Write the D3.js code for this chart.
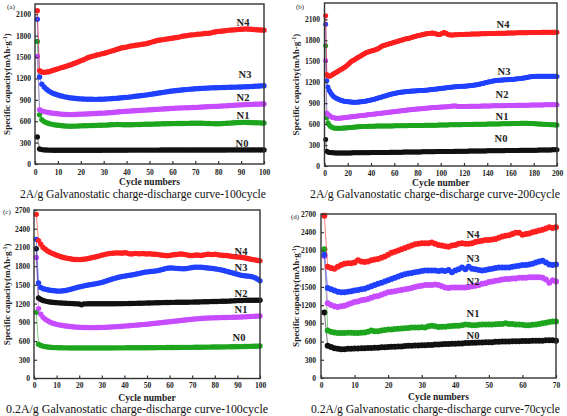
<!DOCTYPE html>
<html><head><meta charset="utf-8">
<script src="https://cdn.jsdelivr.net/npm/d3@7"></script>
<style>body{margin:0;background:#fff}svg{display:block}text{font-family:"Liberation Serif","Times New Roman",serif}</style>
</head><body><svg id="c" width="567" height="416"></svg>
<script>
// ---------- DATA ----------
const seriesNames = ["N0","N1","N2","N3","N4"];
// Panel (a) 2A/g, 100 cycles
const a_N4 = [2150,1310,1290,1285,1290,1295,1305,1315,1325,1335,1345,1355,1365,1375,1385,1395,1410,1420,1435,1450,1460,1475,1490,1500,1510,1520,1530,1535,1545,1550,1560,1570,1580,1590,1600,1610,1620,1630,1635,1640,1650,1655,1660,1665,1670,1675,1680,1685,1690,1700,1710,1720,1730,1735,1740,1745,1750,1755,1760,1765,1770,1775,1780,1790,1795,1800,1805,1810,1812,1815,1820,1822,1825,1830,1832,1835,1840,1848,1855,1860,1862,1865,1870,1875,1878,1880,1882,1885,1888,1890,1892,1895,1893,1890,1888,1885,1883,1880,1880,1878];
const a_N3 = [2030,1220,1120,1080,1050,1025,1005,990,978,968,958,950,942,936,930,926,922,918,915,913,912,910,909,908,908,907,907,908,908,910,912,914,916,918,920,923,926,929,932,935,938,942,946,950,954,958,962,966,970,975,980,985,990,995,1000,1005,1010,1015,1020,1025,1028,1032,1035,1038,1041,1044,1047,1050,1052,1055,1057,1059,1061,1063,1065,1066,1068,1069,1070,1071,1072,1073,1074,1075,1076,1077,1078,1079,1080,1081,1082,1083,1084,1086,1088,1090,1092,1094,1096,1098];
const a_N2 = [1510,760,745,735,728,722,716,712,708,704,700,698,696,694,693,693,694,695,697,699,700,702,703,705,706,708,709,711,712,714,716,718,720,723,726,729,732,735,738,740,742,744,746,748,750,752,754,756,758,760,762,764,766,768,770,772,774,776,778,780,782,784,786,787,788,789,790,791,792,793,795,797,799,801,803,805,806,808,809,810,812,814,816,818,820,822,824,826,828,830,832,834,835,836,837,838,839,840,841,842];
const a_N1 = [1720,690,620,595,580,568,560,553,548,544,540,537,534,532,530,530,531,532,533,535,536,537,538,539,540,541,542,543,544,545,546,548,550,552,553,554,553,552,551,550,550,551,552,553,554,555,556,557,558,558,559,560,561,562,563,564,565,566,566,567,567,568,568,569,569,570,570,571,571,572,572,572,571,570,569,568,567,566,565,565,566,568,570,572,574,576,578,580,582,583,584,584,583,582,580,579,578,577,576,575];
const a_N0 = [380,210,202,198,196,195,194,193,193,192,192,192,192,192,192,192,192,192,193,193,193,193,193,193,193,193,193,193,193,194,194,194,194,194,194,194,194,194,194,194,195,195,195,195,195,195,195,195,195,195,195,195,195,195,196,196,196,196,196,196,196,196,196,196,196,196,196,196,197,197,197,197,197,197,197,197,197,197,197,197,197,197,197,198,198,198,198,198,198,198,198,198,198,198,198,198,198,198,198,198];
// Panel (b) 2A/g, 200 cycles
const b_N4 = [2150,1310,1290,1285,1290,1300,1310,1320,1330,1340,1350,1360,1370,1380,1390,1400,1410,1420,1435,1450,1465,1480,1495,1505,1515,1525,1535,1545,1555,1565,1575,1585,1595,1605,1615,1625,1630,1635,1640,1645,1650,1655,1660,1665,1670,1680,1690,1700,1710,1720,1725,1730,1735,1740,1745,1750,1755,1760,1765,1770,1775,1780,1785,1790,1795,1800,1805,1810,1815,1820,1822,1825,1830,1835,1840,1845,1850,1855,1860,1865,1868,1872,1876,1880,1884,1888,1890,1893,1896,1898,1900,1902,1903,1900,1895,1890,1885,1882,1884,1890,1898,1905,1910,1905,1895,1885,1878,1875,1874,1875,1876,1878,1880,1880,1880,1881,1882,1882,1883,1884,1885,1885,1886,1886,1887,1888,1888,1889,1890,1890,1890,1891,1891,1892,1892,1893,1893,1894,1894,1895,1895,1896,1896,1897,1897,1898,1898,1899,1899,1900,1900,1900,1901,1901,1902,1902,1903,1903,1903,1904,1904,1905,1905,1905,1906,1906,1906,1907,1907,1907,1908,1908,1908,1909,1909,1910,1910,1910,1910,1911,1911,1911,1912,1912,1912,1912,1913,1913,1913,1913,1913,1914,1914,1914,1914,1914,1915,1915,1915,1915];
const b_N3 = [2030,1220,1130,1085,1055,1030,1010,993,980,970,962,955,948,942,937,932,928,925,922,920,918,916,915,914,913,913,913,914,915,916,918,920,922,925,928,931,934,937,941,945,949,953,957,962,967,972,977,982,987,992,997,1002,1007,1012,1017,1022,1027,1031,1035,1039,1042,1045,1048,1051,1054,1056,1058,1060,1062,1064,1066,1068,1070,1071,1072,1073,1074,1075,1076,1077,1078,1079,1080,1081,1082,1083,1084,1086,1088,1090,1092,1094,1096,1098,1100,1102,1104,1106,1108,1110,1112,1114,1116,1118,1120,1122,1124,1126,1128,1130,1132,1134,1135,1136,1137,1138,1139,1140,1141,1142,1143,1144,1146,1148,1150,1152,1154,1156,1158,1160,1163,1166,1170,1174,1178,1182,1186,1190,1194,1198,1202,1206,1210,1214,1217,1220,1222,1224,1226,1228,1229,1230,1231,1232,1233,1234,1235,1236,1237,1238,1239,1240,1242,1244,1246,1248,1250,1252,1254,1256,1258,1261,1264,1267,1270,1273,1276,1278,1280,1281,1282,1283,1283,1284,1284,1284,1285,1285,1285,1285,1285,1285,1285,1284,1284,1284,1283,1283,1283,1282];
const b_N2 = [1510,760,740,725,712,702,695,690,687,685,684,684,685,686,688,690,692,694,696,698,700,702,704,706,708,710,712,714,716,718,720,722,724,726,728,730,732,734,736,738,740,742,744,746,748,750,752,754,756,758,760,762,764,766,768,770,772,774,776,778,780,782,784,786,788,790,792,794,796,798,800,802,804,806,808,810,812,814,815,816,817,818,819,820,822,824,826,828,830,832,834,835,836,837,838,839,840,841,842,843,844,845,846,847,848,849,850,852,855,858,860,860,858,855,852,850,850,850,851,852,852,853,853,854,854,855,855,855,856,856,856,857,857,857,858,858,858,859,859,859,860,860,860,861,861,861,862,862,862,863,863,863,864,864,864,865,865,865,866,866,866,867,867,867,868,868,868,869,869,869,870,870,870,871,871,871,872,872,872,873,873,873,874,874,874,875,875,875,876,876,876,876,877,877,877,877,878,878,878,878];
const b_N1 = [1720,690,620,590,570,558,550,545,542,540,539,539,540,541,542,543,544,545,546,547,548,550,552,554,556,558,559,560,561,562,563,564,565,566,567,567,568,568,569,569,570,570,570,571,571,571,572,572,572,572,572,573,573,573,573,574,574,574,574,575,575,575,575,576,576,576,576,577,577,577,577,578,578,578,578,579,579,579,580,580,580,580,581,581,581,582,582,582,583,583,583,584,584,584,585,585,585,586,586,586,587,587,587,588,588,588,589,589,589,590,590,590,591,591,591,592,592,592,593,593,593,594,594,594,595,595,595,596,596,596,597,597,597,598,598,598,599,599,599,600,600,600,601,601,601,602,602,602,603,603,603,604,604,604,605,605,605,606,606,606,607,607,608,608,609,609,610,610,611,612,612,613,613,612,611,610,609,608,607,606,605,604,603,602,601,600,599,598,597,596,595,594,593,592,591,590,589,588,587,586];
const b_N0 = [380,210,200,195,192,190,189,188,187,187,186,186,186,186,186,186,186,186,187,187,187,187,187,188,188,188,188,189,189,189,189,190,190,190,190,191,191,191,191,192,192,192,192,193,193,193,193,194,194,194,194,195,195,195,195,196,196,196,196,197,197,197,197,198,198,198,198,199,199,199,199,200,200,200,200,201,201,201,201,202,202,202,202,203,203,203,203,204,204,204,204,205,205,205,205,206,206,206,206,207,207,207,207,208,208,208,208,209,209,209,209,210,210,210,210,211,211,211,211,212,212,212,212,213,213,213,213,214,214,214,214,215,215,215,215,216,216,216,216,217,217,217,217,218,218,218,218,219,219,219,219,220,220,220,220,221,221,221,221,222,222,222,222,223,223,223,223,224,224,224,224,225,225,225,225,226,226,226,226,227,227,227,227,228,228,228,228,229,229,229,229,230,230,230,230,231,231,231,231,232];
// Panel (c) 0.2A/g, 100 cycles
const c_N4 = [2630,2210,2150,2100,2070,2045,2025,2005,1990,1975,1962,1950,1940,1932,1925,1918,1912,1908,1906,1905,1906,1910,1915,1922,1930,1938,1946,1955,1965,1975,1985,1993,2000,2005,2008,2010,2012,2010,2008,2015,2010,2000,1995,2000,2005,2000,1998,2002,1998,1995,1998,1994,1990,1992,1985,1980,1975,1970,1968,1972,1978,1982,1985,1990,1995,1990,1985,1978,1972,1970,1975,1980,1975,1972,1978,1985,1990,1988,1985,1990,1985,1980,1975,1970,1972,1968,1960,1955,1950,1948,1945,1940,1935,1928,1920,1912,1905,1898,1892,1885];
const c_N3 = [2230,1530,1460,1440,1430,1422,1415,1410,1406,1402,1400,1402,1405,1410,1418,1428,1438,1448,1458,1468,1476,1484,1492,1498,1504,1510,1516,1524,1532,1540,1550,1562,1574,1586,1598,1608,1618,1626,1634,1640,1646,1652,1658,1664,1672,1680,1688,1696,1702,1708,1712,1716,1720,1724,1730,1738,1748,1760,1768,1770,1770,1768,1765,1762,1760,1758,1760,1765,1772,1778,1782,1784,1784,1782,1778,1774,1770,1766,1762,1758,1752,1745,1738,1730,1720,1710,1700,1690,1680,1670,1660,1652,1646,1642,1640,1635,1625,1610,1590,1565];
const c_N2 = [2080,1290,1265,1250,1240,1232,1226,1222,1218,1215,1212,1210,1208,1206,1204,1202,1200,1198,1196,1194,1180,1195,1196,1197,1197,1198,1198,1198,1198,1198,1198,1198,1198,1198,1198,1198,1199,1199,1199,1200,1200,1201,1202,1203,1204,1205,1206,1207,1208,1209,1210,1211,1212,1213,1214,1215,1216,1217,1218,1219,1220,1220,1221,1221,1222,1222,1223,1223,1224,1224,1225,1226,1227,1228,1229,1230,1231,1232,1233,1234,1235,1236,1237,1238,1239,1240,1242,1244,1246,1248,1250,1251,1252,1253,1254,1254,1255,1255,1255,1255];
const c_N1 = [1940,1120,1030,980,950,925,905,890,878,868,860,853,847,842,837,833,829,826,823,821,819,818,817,816,816,816,816,817,818,819,820,822,824,826,828,830,832,834,837,840,843,846,849,852,855,858,861,864,867,870,874,878,882,886,890,894,898,902,906,910,914,918,922,926,930,934,938,942,946,950,953,956,959,962,965,967,969,971,972,973,974,975,976,977,978,979,980,981,982,983,984,986,988,990,992,994,996,998,1000,1002];
const c_N0 = [1060,550,530,518,510,505,500,497,495,494,493,492,491,491,490,490,490,490,490,490,490,490,490,490,490,490,490,490,490,490,490,490,490,490,490,491,491,491,491,491,492,492,492,492,492,493,493,493,493,493,494,494,494,494,495,495,495,495,496,496,496,497,497,497,498,498,498,499,499,499,500,500,501,501,502,502,503,503,504,504,505,505,506,506,507,507,508,508,509,510,510,511,512,513,514,515,516,517,518,520];
// Panel (d) 0.2A/g, 70 cycles
const d_N4 = [2670,1830,1810,1800,1830,1860,1880,1890,1890,1900,1940,1920,1910,1920,1940,1950,1960,1980,2000,2030,2060,2080,2100,2120,2140,2160,2180,2200,2210,2220,2220,2220,2230,2210,2190,2180,2170,2160,2180,2190,2210,2220,2210,2210,2220,2240,2250,2260,2270,2270,2280,2290,2310,2330,2340,2350,2370,2390,2390,2360,2370,2380,2400,2410,2430,2440,2460,2480,2470,2480];
const d_N3 = [2030,1480,1460,1440,1420,1410,1410,1420,1430,1440,1450,1460,1470,1490,1510,1530,1550,1570,1590,1610,1630,1650,1670,1690,1710,1720,1730,1740,1750,1760,1770,1770,1770,1770,1760,1770,1760,1780,1740,1770,1790,1820,1790,1830,1800,1790,1780,1770,1780,1790,1800,1810,1820,1820,1820,1820,1830,1840,1850,1860,1860,1870,1880,1900,1920,1930,1900,1870,1860,1870];
const d_N2 = [2010,1230,1200,1180,1170,1180,1190,1210,1230,1250,1260,1280,1290,1300,1320,1340,1350,1370,1390,1410,1420,1430,1440,1450,1460,1470,1480,1500,1510,1520,1530,1530,1530,1540,1530,1510,1490,1480,1490,1490,1490,1490,1490,1500,1510,1520,1530,1550,1560,1580,1590,1600,1610,1620,1630,1630,1640,1640,1650,1650,1650,1660,1660,1660,1660,1650,1620,1570,1610,1590];
const d_N1 = [2120,780,760,750,740,740,740,745,745,740,740,745,750,760,780,770,770,780,790,800,800,805,810,815,820,825,830,830,830,835,830,850,860,850,840,845,845,850,855,860,860,870,880,875,870,870,875,880,880,880,880,885,890,890,900,890,890,880,880,875,870,870,875,880,890,900,910,920,930,930];
const d_N0 = [1080,530,510,490,480,475,475,480,480,485,485,490,490,495,495,500,500,505,505,510,515,515,520,520,525,530,530,535,535,540,540,545,545,550,550,555,560,560,565,565,570,570,575,575,580,580,585,585,590,590,590,595,595,600,600,600,605,605,605,610,610,610,615,615,615,615,620,620,620,615];

const xTicksA = [0,10,20,30,40,50,60,70,80,90,100];
const xTicksB = [0,20,40,60,80,100,120,140,160,180,200];
const xTicksD = [0,10,20,30,40,50,60,70];
const yTicksAB = [0,300,600,900,1200,1500,1800,2100];
const yTicksCD = [0,300,600,900,1200,1500,1800,2100,2400,2700];

// ---------- STYLE / LAYOUT ----------
const col = {red:"#ff1f1f", blue:"#2040ff", mag:"#c84cff", green:"#1ea51e", black:"#111111"};
const svg = d3.select("#c");
const serif = '"Liberation Serif","Times New Roman",serif';

const panels = [
  {tag:"(a)", L:35, R:264, T:4, B:164, y2100:14.3, xMax:100, xTicks:xTicksA, yTicks:yTicksAB, r:2.7,
   xTitle:"Cycle numbers", title:"2A/g Galvanostatic charge-discharge curve-100cycle", titleW:246,
   tagPos:[7,9], yLabX:31, xLabY:174.5, xTitleY:184.5, titleX:143, titleY:197.5, yTitleX:10,
   series:[[a_N0,col.black,"N0",[242,147]],[a_N1,col.green,"N1",[243,119]],[a_N2,col.mag,"N2",[243,101]],[a_N3,col.blue,"N3",[245,78]],[a_N4,col.red,"N4",[243,26]]]},
  {tag:"(b)", L:324.5, R:557, T:3, B:166, y2100:19.3, xMax:200, xTicks:xTicksB, yTicks:yTicksAB, r:2.5,
   xTitle:"Cycle number", title:"2A/g Galvanostatic charge-discharge curve-200cycle", titleW:250,
   tagPos:[296,9], yLabX:320, xLabY:176, xTitleY:185.5, titleX:435, titleY:198, yTitleX:299,
   series:[[b_N0,col.black,"N0",[501,142]],[b_N1,col.green,"N1",[502,120]],[b_N2,col.mag,"N2",[502,98]],[b_N3,col.blue,"N3",[504,75]],[b_N4,col.red,"N4",[503,28]]]},
  {tag:"(c)", L:34, R:260, T:210, B:378.5, y2100:null, xMax:100, xTicks:xTicksA, yTicks:yTicksCD, r:2.7,
   xTitle:"Cycle number", title:"0.2A/g Galvanostatic charge-discharge curve-100cycle", titleW:262,
   tagPos:[3,214], yLabX:30, xLabY:388, xTitleY:400.5, titleX:137, titleY:412.5, yTitleX:10,
   series:[[c_N0,col.green,"N0",[239,341]],[c_N1,col.mag,"N1",[241,313]],[c_N2,col.black,"N2",[241,297]],[c_N3,col.blue,"N3",[241,271]],[c_N4,col.red,"N4",[241,255]]]},
  {tag:"(d)", L:321, R:556, T:214, B:378, y2100:null, xMax:70, xTicks:xTicksD, yTicks:yTicksCD, r:3,
   xTitle:"Cycle numbers", title:"0.2A/g Galvanostatic charge-discharge curve-70cycle", titleW:249,
   tagPos:[291,219], yLabX:316, xLabY:388, xTitleY:399.5, titleX:435.5, titleY:412.5, yTitleX:299,
   series:[[d_N0,col.black,"N0",[473,339]],[d_N1,col.green,"N1",[473,317]],[d_N2,col.mag,"N2",[473,285]],[d_N3,col.blue,"N3",[473,262]],[d_N4,col.red,"N4",[473,238]]]}
];

panels.forEach(p => {
  const g = svg.append("g");
  const x = d3.scaleLinear().domain([0, p.xMax]).range([p.L, p.R]);
  let y;
  if (p.y2100 !== null) {
    const top = 2100 * (p.B - p.T) / (p.B - p.y2100);
    y = d3.scaleLinear().domain([0, top]).range([p.B, p.T]);
  } else {
    y = d3.scaleLinear().domain([0, 2700]).range([p.B, p.T]);
  }
  p.series.forEach(([vals, c]) => {
    const pts = vals.map((v,i)=>[i+1, v]);
    g.append("path").datum(pts)
      .attr("d", d3.line().x(d=>x(d[0])).y(d=>y(d[1])))
      .attr("fill","none").attr("stroke",c).attr("stroke-width",0.8).attr("opacity",0.7);
    g.append("g").selectAll("circle").data(pts).join("circle")
      .attr("cx", d=>x(d[0])).attr("cy", d=>y(d[1])).attr("r", p.r)
      .attr("fill", c);
  });
  g.append("rect").attr("x",p.L).attr("y",p.T).attr("width",p.R-p.L).attr("height",p.B-p.T)
    .attr("fill","none").attr("stroke","#333").attr("stroke-width",1.4);
  const fmt = d3.format("d");
  const xa = d3.axisBottom(x).tickValues(p.xTicks).tickFormat(fmt).tickSizeInner(-3).tickSizeOuter(0).tickPadding(5);
  const ya = d3.axisLeft(y).tickValues(p.yTicks).tickFormat(fmt).tickSizeInner(-3).tickSizeOuter(0).tickPadding(4);
  const gx = g.append("g").attr("transform",`translate(0,${p.B})`).call(xa);
  const gy = g.append("g").attr("transform",`translate(${p.L},0)`).call(ya);
  [gx,gy].forEach(a=>{
    a.select(".domain").remove();
    a.selectAll("line").attr("stroke","#333").attr("stroke-width",1.2);
    a.selectAll("text").attr("font-family",serif).attr("font-weight","bold").attr("font-size",7.5).attr("fill","#222");
  });
  gx.selectAll("text").attr("dy",null).attr("y", p.xLabY - p.B);
  gy.selectAll("text").attr("x", p.yLabX - p.L).attr("text-anchor","end").attr("dy","0.32em");
  g.append("text").attr("x",(p.L+p.R)/2).attr("y",p.xTitleY).attr("text-anchor","middle")
    .attr("font-weight","bold").attr("font-size",9.5).attr("fill","#222").text(p.xTitle);
  const yt = g.append("text").attr("transform",`translate(${p.yTitleX},${(p.T+p.B)/2}) rotate(-90)`)
    .attr("text-anchor","middle").attr("font-weight","bold").attr("font-size",9).attr("fill","#222");
  yt.append("tspan").text("Specific capacity(mAh\u00B7g");
  yt.append("tspan").attr("dy",-3).attr("font-size",6).text("-1");
  yt.append("tspan").attr("dy",3).text(")");
  g.append("text").attr("x",p.tagPos[0]).attr("y",p.tagPos[1]).attr("font-size",7).attr("fill","#222").text(p.tag);
  g.append("text").attr("x",p.titleX).attr("y",p.titleY).attr("text-anchor","middle")
    .attr("font-size",12).attr("fill","#111")
    .attr("textLength",p.titleW).attr("lengthAdjust","spacingAndGlyphs").text(p.title);
  p.series.forEach(s => {
    g.append("text").attr("x",s[3][0]).attr("y",s[3][1]).attr("text-anchor","middle")
      .attr("font-weight","bold").attr("font-size",10.5).attr("fill","#222").text(s[2]);
  });
});
</script></body></html>
